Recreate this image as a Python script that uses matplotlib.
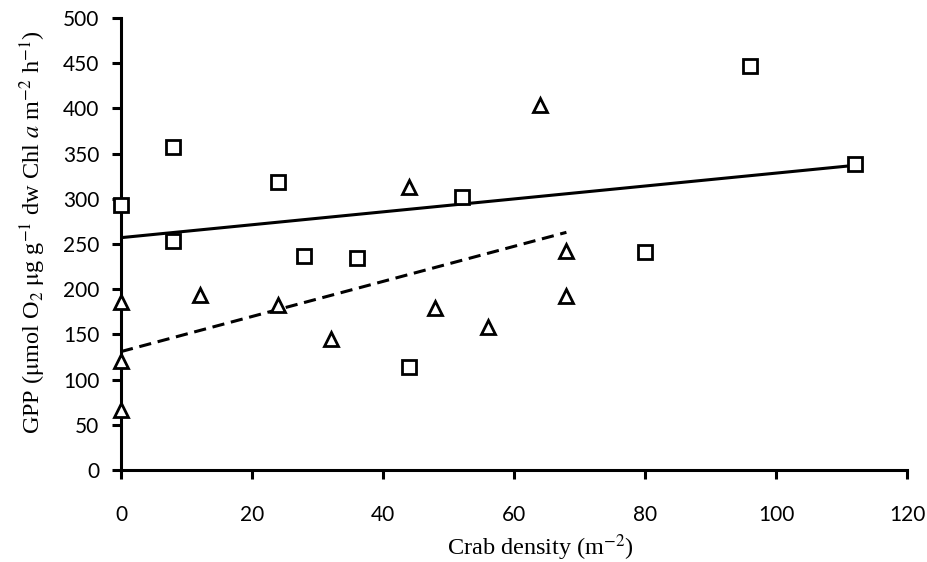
import numpy as np
import matplotlib
matplotlib.use("Agg")
import matplotlib.pyplot as plt

plt.rcParams['mathtext.fontset'] = 'stix'

# square series
sq_x = [0, 8, 8, 24, 28, 36, 44, 52, 80, 96, 112]
sq_y = [293, 357, 253, 319, 237, 234, 114, 302, 241, 447, 339]
# triangle series
tri_x = [0, 0, 0, 12, 24, 32, 44, 48, 56, 64, 68, 68]
tri_y = [186, 121, 66, 194, 182, 145, 313, 179, 158, 404, 242, 192]

# trend lines: intercept, slope, x range
sq_fit = (257, 0.714, 0, 112)
tri_fit = (131, 1.94, 0, 68)

fig = plt.figure(figsize=(9.28, 5.62), dpi=100)
ax = fig.add_axes([0.1304, 0.1637, 0.847, 0.8043])

b, m, x0, x1 = sq_fit
xs = np.array([x0, x1])
ax.plot(xs, b + m * xs, color='black', lw=2.2, solid_capstyle='butt')
b, m, x0, x1 = tri_fit
xs = np.array([x0, x1])
ax.plot(xs, b + m * xs, color='black', lw=2.2, ls=(0, (4, 2.2)))

ax.plot(sq_x, sq_y, ls='none', marker='s', ms=10, mfc='white', mec='black', mew=2, clip_on=False, zorder=3)
ax.plot(tri_x, tri_y, ls='none', marker='^', ms=10, mfc='white', mec='black', mew=2, clip_on=False, zorder=3)

ax.set_xlim(0, 120)
ax.set_ylim(0, 500)
ax.set_xticks(range(0, 121, 20))
ax.set_yticks(range(0, 501, 50))
for s in ['top', 'right']:
    ax.spines[s].set_visible(False)
for s in ['left', 'bottom']:
    ax.spines[s].set_linewidth(2.2)
ax.tick_params(direction='out', length=6.5, width=2.2, labelsize=15)
ax.tick_params(axis='x', pad=19)
ax.tick_params(axis='y', pad=9)
for lab in ax.get_xticklabels() + ax.get_yticklabels():
    lab.set_family('Lato')

ax.set_xlabel(r'Crab density (m$^{-2}$)', family='Liberation Serif', fontsize=17.5)
ax.set_ylabel(r'GPP ($\mathrm{\mu}$mol O$_2$ $\mathrm{\mu}$g g$^{-1}$ dw Chl $a$ m$^{-2}$ h$^{-1}$)',
              family='Liberation Serif', fontsize=17.5)
ax.xaxis.set_label_coords(0.533, -0.137)
ax.yaxis.set_label_coords(-0.093, 0.527)

fig.savefig('out.png', dpi=100)
